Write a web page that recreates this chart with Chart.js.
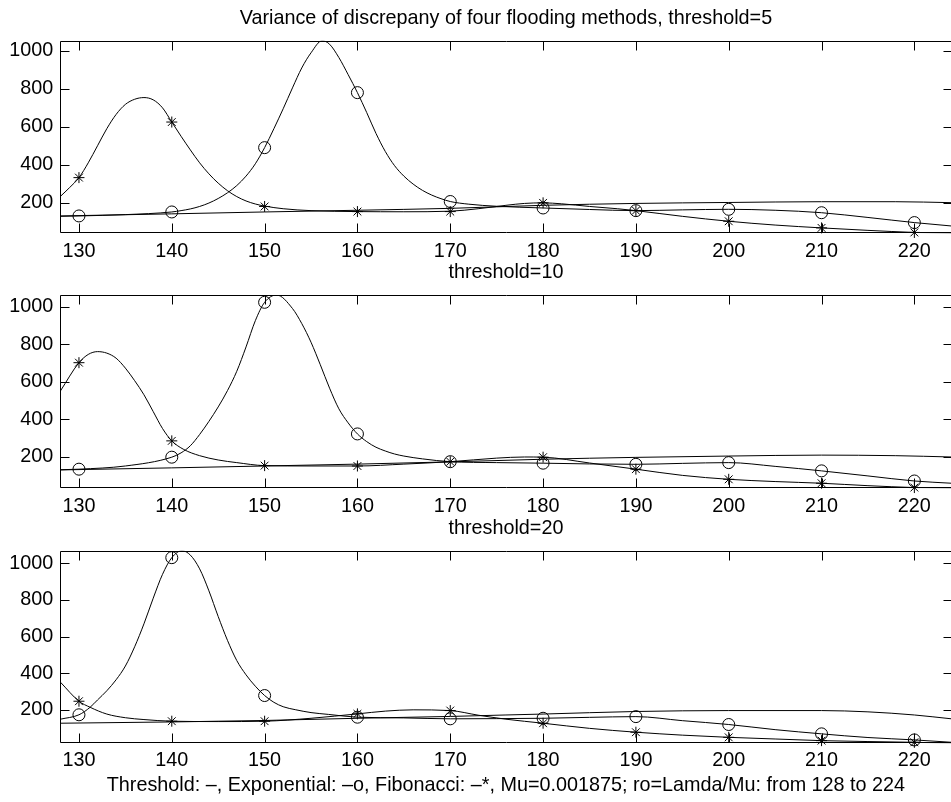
<!DOCTYPE html>
<html>
<head>
<meta charset="utf-8">
<script src="https://cdn.jsdelivr.net/npm/chart.js@4.4.1/dist/chart.umd.min.js"></script>
<style>
  html, body { margin: 0; padding: 0; background: #fff; overflow: hidden; }
  #wrap { position: relative; width: 951px; height: 802px; overflow: hidden; }
  #wrap canvas { position: absolute; left: 0; }
</style>
</head>
<body>
<div id="wrap">
  <canvas id="c5" width="960" height="290" style="top:0px"></canvas>
  <canvas id="c10" width="960" height="255" style="top:290px"></canvas>
  <canvas id="c20" width="960" height="257" style="top:545px"></canvas>
</div>
<script>
// marker positions (ro range 128..224, markers every 10)
const markX = [130, 140, 150, 160, 170, 180, 190, 200, 210, 220];
const xTicks = [130, 140, 150, 160, 170, 180, 190, 200, 210, 220];
const yTicks = [200, 400, 600, 800, 1000];

// threshold=5
const expMarks5 = [130, 151, 490, 780, 206, 172, 158, 165, 147, 95];
const fibMarks5 = [332, 625, 180, 153, 153, 199, 158, 102, 67, 43];
const thrCurve5 = [[128,130],[140,141],[150,151],[160,160],[170,170],[180,186],[190,196],[200,201],[210,205],[218,205],[224,200]];
const expCurve5 = [[128,128],[130,130],[135,137],[140,151],[141,158],[142,167],[143,180],[144,198],[145,222],[146,252],[147,290],[148,340],[149,405],[150,490],[151,590],[152,695],[153,805],[154,910],[155,990],[156.2,1054],[157,1035],[158,965],[159,875],[160,780],[161,675],[162,565],[163,470],[164,395],[165,340],[166,298],[167,265],[168,240],[169,221],[170,206],[172,192],[175,181],[180,172],[185,164],[190,158],[195,162],[200,165],[205,160],[210,147],[215,122],[220,95],[224,77]];
const fibCurve5 = [[128,233],[129,280],[130,332],[131,410],[132,500],[133,590],[134,665],[135,718],[136,745],[137,754],[138,742],[139,700],[140,625],[141,550],[142,478],[143,410],[144,352],[145,303],[146,263],[147,232],[148,209],[149,193],[150,182],[152,168],[155,158],[160,153],[165,152],[170,155],[173,168],[176,186],[178,196],[180,199],[182,194],[185,180],[188,168],[190,158],[195,128],[200,102],[205,82],[210,67],[215,54],[220,43],[224,38]];

// threshold=10
const expMarks10 = [133, 197, 1023, 321, 173, 165, 159, 168, 124, 70];
const fibMarks10 = [701, 284, 152, 150, 173, 197, 133, 79, 58, 35];
const thrCurve10 = [[128,129],[140,140],[150,150],[160,160],[170,172],[180,186],[190,196],[200,203],[210,208],[218,205],[224,198]];
const expCurve10 = [[128,130],[130,133],[135,150],[140,197],[141,220],[142,258],[143,318],[144,388],[145,465],[146,552],[147,655],[148,785],[149,925],[150,1023],[151.3,1062],[153,990],[154,910],[155,810],[156,690],[157,565],[158,455],[159,380],[160,321],[161,280],[162,250],[163,230],[164,214],[165,203],[167,188],[170,173],[175,168],[180,165],[185,161],[190,159],[195,164],[200,168],[205,148],[210,124],[215,97],[220,70],[224,58]];
const fibCurve10 = [[128,550],[130,701],[131,745],[132,760],[133,752],[134,725],[135,672],[136,605],[137,530],[138,440],[139,350],[140,284],[141.3,238],[143,205],[145,182],[147,168],[150,152],[155,150],[160,150],[165,160],[170,173],[175,192],[178,198],[180,197],[185,166],[190,133],[195,100],[200,79],[205,67],[210,58],[215,45],[220,35],[224,31]];

// threshold=20
const expMarks20 = [174, 1031, 279, 161, 152, 155, 164, 121, 70, 37];
const fibMarks20 = [248, 139, 139, 179, 197, 128, 79, 51, 33, 24];
const thrCurve20 = [[128,128],[140,135],[150,143],[160,155],[170,165],[176,173],[180,178],[190,192],[200,197],[210,197],[215,190],[220,173],[224,152]];
const expCurve20 = [[128,150],[130,174],[131.2,215],[132,255],[133,305],[134,365],[135,440],[136,545],[137,670],[138,810],[139,940],[140,1031],[141.1,1069],[142,1045],[143,970],[144,850],[145,710],[146,580],[147,470],[148,392],[149,330],[150,279],[151,242],[152,218],[153.3,202],[155,186],[156.9,176],[160,161],[165,157],[170,152],[175,153],[180,155],[185,160],[190,164],[195,142],[200,121],[205,93],[210,70],[215,50],[220,37],[224,24]];
const fibCurve20 = [[128,352],[130,248],[131.2,215],[133,178],[135,158],[137,148],[140,139],[145,137],[150,139],[155,155],[160,179],[163,194],[166,201],[170,197],[173,172],[176,150],[180,128],[185,100],[190,79],[195,63],[200,51],[205,42],[210,33],[215,28],[220,24],[224,19]];

const xRange = [128, 224];
const yRanges = [[38.5, 1054], [31, 1062], [18.5, 1069]];

const mainTitle = "Variance of discrepany of four flooding methods, threshold=5";
const xTitles = ["threshold=10", "threshold=20", "Threshold: \u2013, Exponential: \u2013o, Fibonacci: \u2013*, Mu=0.001875; ro=Lamda/Mu: from 128 to 224"];

Chart.defaults.font.family = '"Liberation Sans", Arial, Helvetica, sans-serif';
Chart.defaults.font.size = 19.8;
Chart.defaults.color = "#000";

function toPts(arr){ return arr.map(p => ({ x: p[0], y: p[1] })); }
function marks(vals){ return markX.map((x, i) => ({ x: x, y: vals[i] })); }

function lineSet(arr){
  return { data: toPts(arr), borderColor: "#000", borderWidth: 1, pointRadius: 0,
           cubicInterpolationMode: "monotone", fill: false };
}
function markSet(vals, style){
  return { data: marks(vals), showLine: false, pointStyle: style,
           pointRadius: style === "star" ? 5.5 : 6, borderColor: "#000", borderWidth: 1,
           backgroundColor: "rgba(0,0,0,0)", clip: false };
}

// box round the axes with inward ticks on all four sides
const framePlugin = {
  id: "frame",
  afterDraw(chart){
    const { ctx, chartArea: a, scales: { x, y } } = chart;
    const L = Math.round(a.left) + 0.5, R = Math.round(a.right) + 0.5;
    const T = Math.round(a.top) + 0.5, B = Math.round(a.bottom) - 0.5;
    ctx.save();
    ctx.strokeStyle = "#000";
    ctx.lineWidth = 1;
    ctx.beginPath();
    ctx.rect(L, T, R - L, B - T);
    x.ticks.forEach(t => {
      const px = Math.round(x.getPixelForValue(t.value)) + 0.5;
      ctx.moveTo(px, B); ctx.lineTo(px, B - 9);
      ctx.moveTo(px, T); ctx.lineTo(px, T + 9);
    });
    y.ticks.forEach(t => {
      const py = Math.round(y.getPixelForValue(t.value)) + 0.5;
      ctx.moveTo(L, py); ctx.lineTo(L + 9, py);
      ctx.moveTo(R, py); ctx.lineTo(R - 9, py);
    });
    ctx.stroke();
    ctx.restore();
  }
};

function makeChart(id, sets, idx, opt){
  return new Chart(document.getElementById(id), {
    type: "line",
    data: { datasets: sets },
    plugins: [framePlugin],
    options: {
      responsive: false,
      animation: false,
      devicePixelRatio: 1,
      events: [],
      layout: { autoPadding: false, padding: { top: opt.padTop, right: 8.5, bottom: 0, left: 0 } },
      plugins: {
        legend: { display: false },
        tooltip: { enabled: false },
        title: opt.title
          ? { display: true, text: opt.title, fullSize: false, color: "#000", font: { weight: "normal" },
              padding: { top: 7.1, bottom: 9.8 } }
          : { display: false }
      },
      scales: {
        x: {
          type: "linear", min: xRange[0], max: xRange[1],
          grid: { display: false, drawTicks: false }, border: { display: false },
          ticks: { padding: opt.tickPad, maxRotation: 0, autoSkip: false, callback: v => String(v) },
          afterBuildTicks(s){ s.ticks = xTicks.map(v => ({ value: v })); },
          title: { display: true, text: xTitles[idx], color: "#000", padding: { top: 0, bottom: opt.titlePad } },
          afterFit(s){ s.height = opt.xHeight; s.paddingLeft = 0; s.paddingRight = 0; }
        },
        y: {
          min: yRanges[idx][0], max: yRanges[idx][1],
          grid: { display: false, drawTicks: false }, border: { display: false },
          ticks: { padding: 7.1, autoSkip: false, callback: v => String(v) },
          afterBuildTicks(s){ s.ticks = yTicks.map(v => ({ value: v })); },
          afterFit(s){ s.width = 60.4; s.paddingTop = 0; s.paddingBottom = 0; }
        }
      }
    }
  });
}

makeChart("c5", [lineSet(thrCurve5), lineSet(expCurve5), lineSet(fibCurve5),
                 markSet(expMarks5, "circle"), markSet(fibMarks5, "star")], 0,
          { title: mainTitle, padTop: 0, xHeight: 56.7, tickPad: 6.6, titlePad: 5.1 });
makeChart("c10", [lineSet(thrCurve10), lineSet(expCurve10), lineSet(fibCurve10),
                  markSet(expMarks10, "circle"), markSet(fibMarks10, "star")], 1,
          { padTop: 5, xHeight: 56.7, tickPad: 6.5, titlePad: 4.8 });
makeChart("c20", [lineSet(thrCurve20), lineSet(expCurve20), lineSet(fibCurve20),
                  markSet(expMarks20, "circle"), markSet(fibMarks20, "star")], 2,
          { padTop: 5.7, xHeight: 58.7, tickPad: 5.6, titlePad: 4.3 });
</script>
</body>
</html>
